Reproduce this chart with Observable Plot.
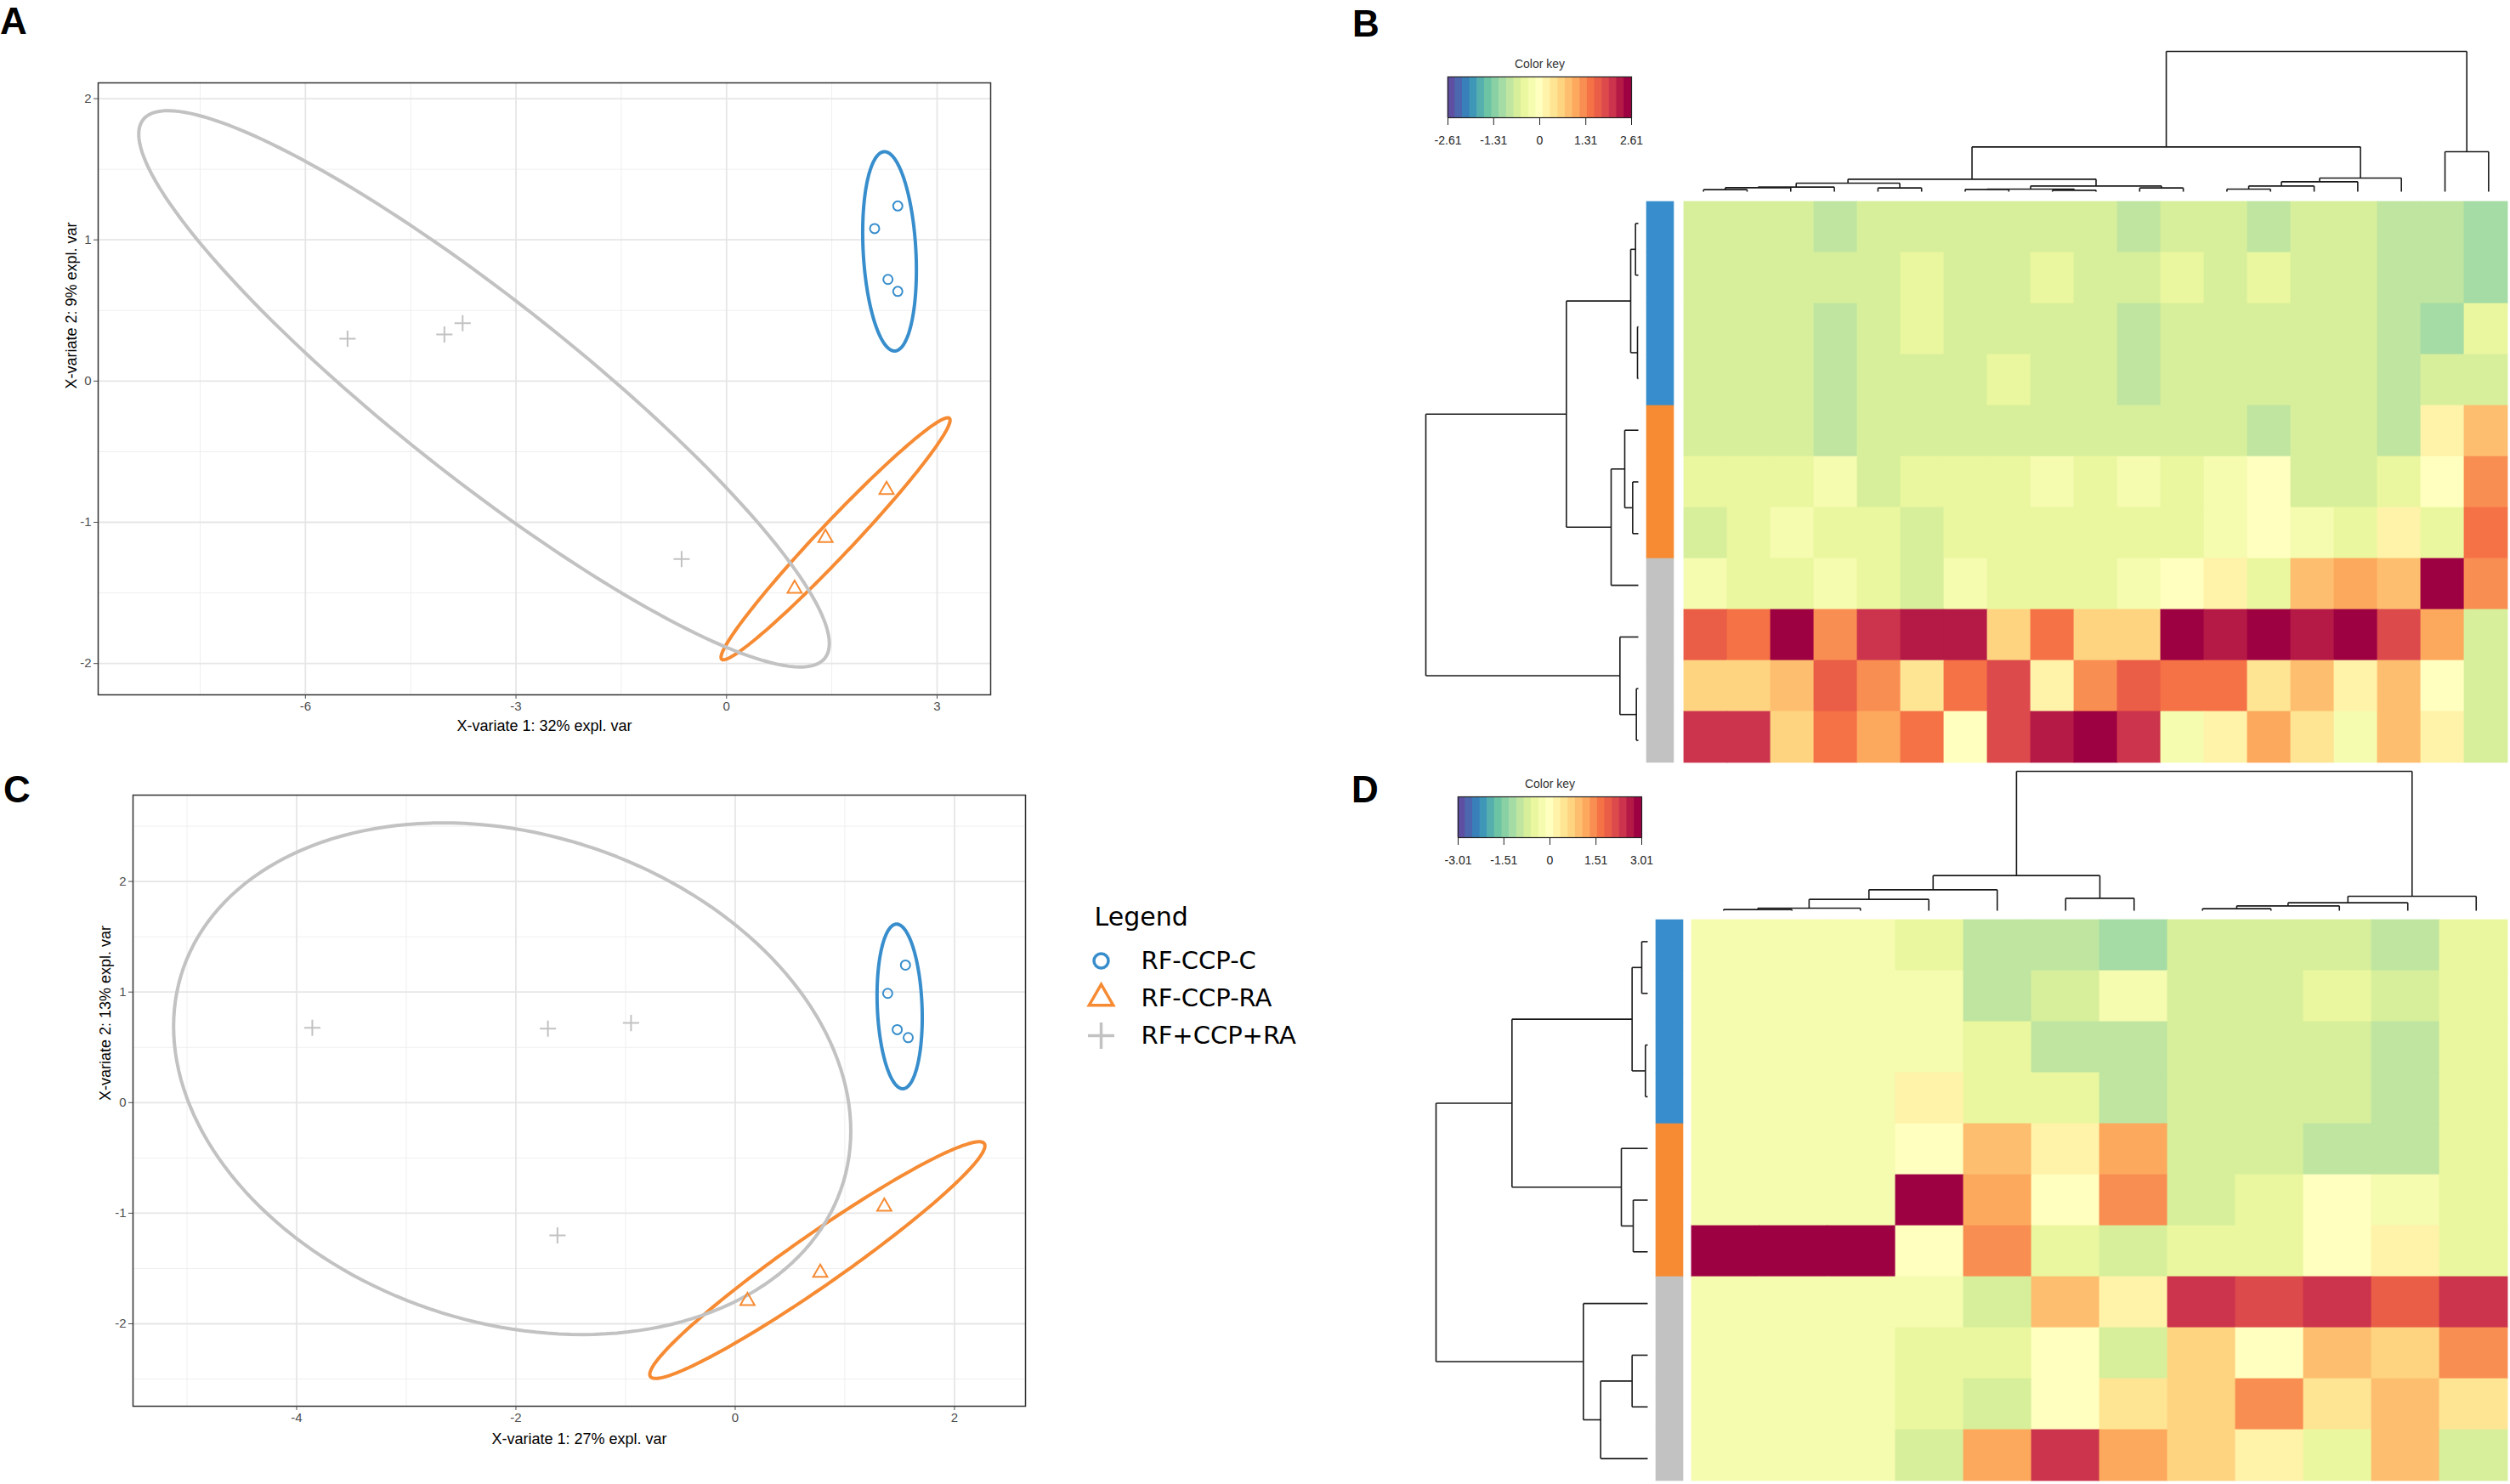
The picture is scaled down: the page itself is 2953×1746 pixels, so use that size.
<!DOCTYPE html>
<html><head><meta charset="utf-8">
<script src="https://cdn.jsdelivr.net/npm/d3@7"></script>
<script src="https://cdn.jsdelivr.net/npm/@observablehq/plot@0.6"></script>
<style>
html,body{margin:0;padding:0;background:#fff;}
#root{position:relative;width:2953px;height:1746px;overflow:hidden;background:#fff;font-family:"Liberation Sans",Arial,sans-serif;}
.plab{position:absolute;font:bold 44px "Liberation Sans",Arial,sans-serif;line-height:1;color:#000;}
</style></head><body><div id="root"></div>
<script>
// ---------------- DATA ----------------
const groups = ["RF-CCP-C", "RF-CCP-RA", "RF+CCP+RA"];
const groupColors = ["#388ECC", "#F68B33", "#C2C2C2"];
const groupSymbols = ["circle", "triangle2", "plus"];

// Panel A: sample scores (sPLS-DA, components 1-2)
const aGroup = ["RF-CCP-C","RF-CCP-C","RF-CCP-C","RF-CCP-C","RF-CCP-RA","RF-CCP-RA","RF-CCP-RA","RF+CCP+RA","RF+CCP+RA","RF+CCP+RA","RF+CCP+RA"];
const aX = [2.44, 2.11, 2.30, 2.44, 2.28, 1.41, 0.97, -5.40, -4.02, -3.76, -0.64];
const aY = [1.24, 1.08, 0.72, 0.635, -0.77, -1.11, -1.47, 0.30, 0.33, 0.41, -1.26];
const aXTicks = [-6, -3, 0, 3];
const aXMinor = [-7.5, -4.5, -1.5, 1.5];
const aYTicks = [-2, -1, 0, 1, 2];
const aYMinor = [-1.5, -0.5, 0.5, 1.5];
const aXLabel = "X-variate 1: 32% expl. var";
const aYLabel = "X-variate 2: 9% expl. var";

// Panel C
const cGroup = aGroup;
const cX = [1.553, 1.391, 1.478, 1.578, 1.360, 0.776, 0.112, -3.857, -1.708, -0.950, -1.621];
const cY = [1.244, 0.988, 0.660, 0.588, -0.941, -1.538, -1.793, 0.677, 0.669, 0.720, -1.201];
const cXTicks = [-4, -2, 0, 2];
const cXMinor = [-5, -3, -1, 1];
const cYTicks = [-2, -1, 0, 1, 2];
const cYMinor = [-2.5, -1.5, -0.5, 0.5, 1.5, 2.5];
const cXLabel = "X-variate 1: 27% expl. var";
const cYLabel = "X-variate 2: 13% expl. var";

// Heatmap B (rows in display order, 19 variables)
const bValues = [
  [-0.63,-0.62,-0.64,-0.82,-0.61,-0.63,-0.60,-0.62,-0.64,-0.63,-0.86,-0.62,-0.60,-0.80,-0.62,-0.61,-0.85,-0.83,-1.05],
  [-0.62,-0.64,-0.61,-0.66,-0.63,-0.45,-0.62,-0.60,-0.42,-0.63,-0.65,-0.44,-0.61,-0.40,-0.62,-0.64,-0.84,-0.80,-1.02],
  [-0.61,-0.63,-0.62,-0.83,-0.64,-0.46,-0.60,-0.62,-0.63,-0.61,-0.85,-0.62,-0.64,-0.60,-0.63,-0.62,-0.86,-1.08,-0.40],
  [-0.64,-0.62,-0.63,-0.84,-0.61,-0.60,-0.63,-0.43,-0.62,-0.64,-0.82,-0.61,-0.63,-0.62,-0.60,-0.64,-0.83,-0.70,-0.68],
  [-0.62,-0.61,-0.64,-0.85,-0.62,-0.63,-0.60,-0.62,-0.64,-0.61,-0.63,-0.62,-0.60,-0.84,-0.62,-0.63,-0.82,0.22,0.86],
  [-0.42,-0.44,-0.40,-0.22,-0.62,-0.41,-0.43,-0.45,-0.20,-0.42,-0.23,-0.41,-0.19,0.01,-0.60,-0.64,-0.42,0.03,1.24],
  [-0.62,-0.43,-0.21,-0.41,-0.44,-0.63,-0.42,-0.40,-0.43,-0.41,-0.44,-0.42,-0.20,0.02,-0.22,-0.41,0.20,-0.43,1.47],
  [-0.21,-0.42,-0.40,-0.19,-0.43,-0.64,-0.22,-0.41,-0.42,-0.44,-0.20,0.00,0.21,-0.42,0.85,1.05,0.83,2.61,1.27],
  [1.68,1.45,2.52,1.26,2.08,2.29,2.31,0.62,1.47,0.64,0.63,2.55,2.28,2.50,2.30,2.53,1.87,1.03,-0.63],
  [0.63,0.64,0.84,1.66,1.25,0.41,1.46,1.88,0.21,1.24,1.67,1.45,1.47,0.43,0.85,0.20,0.83,0.01,-0.62],
  [2.09,2.10,0.62,1.46,1.05,1.44,-0.02,1.89,2.31,2.54,2.08,-0.21,0.22,1.04,0.42,-0.20,0.84,0.21,-0.64]
];
const bRowGroups = ["RF-CCP-C","RF-CCP-C","RF-CCP-C","RF-CCP-C","RF-CCP-RA","RF-CCP-RA","RF-CCP-RA","RF+CCP+RA","RF+CCP+RA","RF+CCP+RA","RF+CCP+RA"];
// dendrogram merges [a, b, height]; negative = leaf (display order), positive = earlier merge
const bRowMerges = [[-1,-2,10],[-3,-4,3],[1,2,27],[-6,-7,20],[-5,4,48],[5,-8,96],[3,6,254],[-10,-11,7],[-9,8,65],[7,9,750]];
const bColMerges = [[-1,-2,7],[1,-3,14],[2,-4,16],[-5,-6,13],[3,4,30],[-7,-8,8],[-9,-10,5],[6,7,9],[-11,-12,13],[8,9,20],[5,10,44],
  [-13,-14,9],[12,-15,20],[13,-16,35],[14,-17,48],[11,15,158],[-18,-19,141],[16,17,495]];
const bKeyTicks = [-2.61, -1.31, 0, 1.31, 2.61];

// Heatmap D (12 variables)
const dValues = [
  [-0.24,-0.24,-0.24,-0.47,-0.95,-0.97,-1.20,-0.72,-0.70,-0.73,-0.96,-0.48],
  [-0.24,-0.24,-0.24,-0.22,-0.94,-0.71,-0.25,-0.73,-0.72,-0.46,-0.70,-0.49],
  [-0.24,-0.24,-0.24,-0.23,-0.47,-0.96,-0.98,-0.72,-0.71,-0.74,-0.95,-0.47],
  [-0.24,-0.24,-0.24,0.25,-0.46,-0.49,-0.97,-0.71,-0.72,-0.70,-0.96,-0.48],
  [-0.24,-0.24,-0.24,0.02,0.95,0.24,1.19,-0.72,-0.73,-0.95,-0.97,-0.47],
  [-0.24,-0.24,-0.24,2.91,1.21,0.01,1.45,-0.71,-0.47,0.03,-0.23,-0.48],
  [3.01,3.01,3.01,-0.02,1.44,-0.48,-0.72,-0.46,-0.47,0.02,0.25,-0.49],
  [-0.24,-0.24,-0.24,-0.23,-0.72,0.96,0.23,2.40,2.17,2.42,1.93,2.39],
  [-0.24,-0.24,-0.24,-0.47,-0.49,0.01,-0.72,0.73,0.02,0.97,0.71,1.45],
  [-0.24,-0.24,-0.24,-0.46,-0.73,0.00,0.49,0.72,1.44,0.47,0.95,0.48],
  [-0.24,-0.24,-0.24,-0.71,1.20,2.40,1.22,0.73,0.24,-0.47,0.96,-0.72]
];
const dRowGroups = bRowGroups;
const dRowMerges = [[-1,-2,21],[-3,-4,8],[1,2,55],[-6,-7,51],[-5,4,93],[3,5,479],[-9,-10,55],[7,-11,166],[-8,8,227],[6,9,747]];
const dColMerges = [[-1,-2,4],[1,-3,9],[2,-4,40],[3,-5,74],[-6,-7,44],[4,5,124],[-8,-9,7],[7,-10,17],[8,-11,28],[9,-12,51],[6,10,492]];
const dKeyTicks = [-3.01, -1.51, 0, 1.51, 3.01];

// colour palette (mixOmics color.spectral style)
const spectral11 = ["#5E4FA2","#3288BD","#66C2A5","#ABDDA4","#E6F598","#FFFFBF","#FEE08B","#FDAE61","#F46D43","#D53E4F","#9E0142"];
const nColors = 25;

// ---------------- HELPERS ----------------
const root = document.getElementById("root");
const FONT = '"Liberation Sans", Arial, sans-serif';
const LEGEND_FONT = '"DejaVu Sans", "Noto Sans", sans-serif';
const palette = d3.quantize(d3.piecewise(d3.interpolateRgb, spectral11), nColors);
function place(el, left, top) {
  el.style.position = "absolute"; el.style.left = left + "px"; el.style.top = top + "px";
  el.style.maxWidth = "none";
  root.appendChild(el);
}
function label(txt, left, top) {
  const d = document.createElement("div"); d.className = "plab"; d.textContent = txt;
  d.style.left = left + "px"; d.style.top = top + "px"; root.appendChild(d);
}
const baseStyle = {background: "transparent", fontFamily: FONT, fontSize: "15px", color: "#000", overflow: "visible"};

function ellipses(xs, ys, gs, level = 0.95, n = 180) {
  const t = Math.sqrt(-2 * Math.log(1 - level)); // sqrt(qchisq(level, 2))
  const out = [];
  for (const g of groups) {
    const idx = gs.map((d, i) => d === g ? i : -1).filter(i => i >= 0);
    const px = idx.map(i => xs[i]), py = idx.map(i => ys[i]);
    const mx = d3.mean(px), my = d3.mean(py);
    const sxx = d3.variance(px), syy = d3.variance(py);
    const sxy = d3.sum(idx, i => (xs[i] - mx) * (ys[i] - my)) / (idx.length - 1);
    const l11 = Math.sqrt(sxx), l21 = sxy / l11, l22 = Math.sqrt(Math.max(syy - l21 * l21, 0));
    for (let k = 0; k < n; k++) {
      const a = 2 * Math.PI * k / n, u = Math.cos(a), v = Math.sin(a);
      out.push({g, x: mx + t * l11 * u, y: my + t * (l21 * u + l22 * v)});
    }
  }
  return out;
}
function expand(ext) { const r = ext[1] - ext[0]; return [ext[0] - 0.05 * r, ext[1] + 0.05 * r]; }

function scatterPanel(o) {
  const pts = o.xs.map((x, i) => ({x, y: o.ys[i], g: o.gs[i]}));
  const ell = ellipses(o.xs, o.ys, o.gs);
  const all = pts.concat(ell);
  const xd = expand(d3.extent(all, d => d.x)), yd = expand(d3.extent(all, d => d.y));
  const sizes = [5.5, 8, 6.2];
  return Plot.plot({
    width: o.width, height: o.height,
    marginTop: o.mt, marginRight: o.mr, marginBottom: o.mb, marginLeft: o.ml,
    style: baseStyle,
    x: {domain: xd}, y: {domain: yd},
    color: {domain: groups, range: groupColors},
    symbol: {domain: groups, range: groupSymbols},
    marks: [
      Plot.ruleX(o.xMinor, {stroke: "#EFEFEF", strokeWidth: 1}),
      Plot.ruleY(o.yMinor, {stroke: "#EFEFEF", strokeWidth: 1}),
      Plot.ruleX(o.xTicks, {stroke: "#E6E6E6", strokeWidth: 1.8}),
      Plot.ruleY(o.yTicks, {stroke: "#E6E6E6", strokeWidth: 1.8}),
      Plot.line(ell, {x: "x", y: "y", z: "g", stroke: "g", strokeWidth: 4, curve: "linear-closed"}),
      ...groups.map((g, k) => Plot.dot(pts, {filter: d => d.g === g, x: "x", y: "y", symbol: "g", stroke: "g", r: sizes[k], strokeWidth: 2})),
      Plot.frame({stroke: "#333", strokeWidth: 1.5}),
      Plot.axisX(o.xTicks, {tickSize: 5, tickPadding: 3, fontSize: 15, color: "#4D4D4D", label: null, tickFormat: d => String(d)}),
      Plot.axisY(o.yTicks, {tickSize: 5, tickPadding: 3, fontSize: 15, color: "#4D4D4D", label: null, tickFormat: d => String(d)}),
      Plot.text([o.xLabel], {text: d => d, frameAnchor: "bottom", dy: o.xDy, lineAnchor: "middle", fontSize: 18, fill: "#000"}),
      Plot.text([o.yLabel], {text: d => d, frameAnchor: "left", dx: o.yDx, rotate: -90, lineAnchor: "middle", fontSize: 18, fill: "#000"})
    ]
  });
}

function dendroSegments(merges) {
  const pos = [], ht = [], segs = [];
  const get = k => k < 0 ? {p: -k, h: 0} : {p: pos[k - 1], h: ht[k - 1]};
  for (const [a, b, h] of merges) {
    const A = get(a), B = get(b);
    segs.push({p1: A.p, h1: A.h, p2: A.p, h2: h});
    segs.push({p1: B.p, h1: B.h, p2: B.p, h2: h});
    segs.push({p1: A.p, h1: h, p2: B.p, h2: h});
    pos.push((A.p + B.p) / 2); ht.push(h);
  }
  return {segs, maxH: d3.max(ht)};
}

function colorKey(M, ticks) {
  const n = palette.length;
  const bins = palette.map((c, k) => ({x1: -M + 2 * M * k / n, x2: -M + 2 * M * (k + 1) / n, c}));
  return Plot.plot({
    width: 260, height: 130, marginLeft: 23, marginRight: 21, marginTop: 35, marginBottom: 47,
    style: baseStyle,
    x: {domain: [-M, M]}, y: {domain: [0, 1], axis: null},
    color: {type: "identity"},
    marks: [
      Plot.rect(bins, {x1: "x1", x2: "x2", y1: 0, y2: 1, fill: "c", insetLeft: -0.3, insetRight: -0.3}),
      Plot.frame({stroke: "#222", strokeWidth: 1.2}),
      Plot.axisX(ticks, {tickSize: 9, tickPadding: 13, fontSize: 14, color: "#222", label: null, tickFormat: d => String(d)}),
      Plot.text(["Color key"], {text: d => d, frameAnchor: "top", dy: -11, lineAnchor: "bottom", fontSize: 14, fill: "#333"})
    ]
  });
}

function heatmap(cfg) {
  const {values, rowGroups, rowMerges, colMerges, ticks, C, S, RD, CD, K} = cfg;
  const nr = values.length, nc = values[0].length;
  const M = d3.max(values.flat(), Math.abs);
  const thresholds = d3.range(1, nColors).map(k => -M + 2 * M * k / nColors);
  const data = values.flatMap((row, i) => row.map((v, j) => ({r: i + 1, c: j + 1, v})));
  place(Plot.plot({
    width: C.w, height: C.h, margin: 0, style: baseStyle,
    x: {domain: d3.range(1, nc + 1), axis: null, padding: 0},
    y: {domain: d3.range(1, nr + 1), axis: null, padding: 0},
    color: {type: "threshold", domain: thresholds, range: palette},
    marks: [Plot.cell(data, {x: "c", y: "r", fill: "v", inset: -0.4})]
  }), C.left, C.top);
  // side colour bar
  place(Plot.plot({
    width: S.w, height: C.h, margin: 0, style: baseStyle,
    y: {domain: d3.range(1, nr + 1), axis: null, padding: 0},
    color: {domain: groups, range: groupColors},
    marks: [Plot.cell(rowGroups.map((g, i) => ({r: i + 1, g})), {y: "r", fill: "g", inset: -0.3})]
  }), S.left, C.top);
  // row dendrogram
  const rd = dendroSegments(rowMerges);
  place(Plot.plot({
    width: RD.w, height: C.h, margin: 0, style: baseStyle,
    x: {domain: [0, rd.maxH], range: [RD.leafX, RD.rootX], axis: null},
    y: {domain: [0.5, nr + 0.5], range: [0, C.h], axis: null},
    marks: [Plot.link(rd.segs, {x1: "h1", y1: "p1", x2: "h2", y2: "p2", stroke: "#1a1a1a", strokeWidth: 1.6})]
  }), RD.left, C.top);
  // column dendrogram
  const cd = dendroSegments(colMerges);
  place(Plot.plot({
    width: C.w, height: CD.h, margin: 0, style: baseStyle,
    x: {domain: [0.5, nc + 0.5], range: [0, C.w], axis: null},
    y: {domain: [0, cd.maxH], range: [CD.leafY, CD.rootY], axis: null},
    marks: [Plot.link(cd.segs, {x1: "p1", y1: "h1", x2: "p2", y2: "h2", stroke: "#1a1a1a", strokeWidth: 1.6})]
  }), C.left, CD.top);
  place(colorKey(M, ticks), K.left, K.top);
}

// ---------------- BUILD ----------------
label("A", 0, 3);
label("B", 1591, 6);
label("C", 4, 907);
label("D", 1590, 907);

place(scatterPanel({xs: aX, ys: aY, gs: aGroup, xTicks: aXTicks, yTicks: aYTicks, xMinor: aXMinor, yMinor: aYMinor,
  xLabel: aXLabel, yLabel: aYLabel, width: 1200, height: 820, mt: 37, mr: 35, mb: 63, ml: 115, xDy: 37, yDx: -31}), 0, 60);
place(scatterPanel({xs: cX, ys: cY, gs: cGroup, xTicks: cXTicks, yTicks: cYTicks, xMinor: cXMinor, yMinor: cYMinor,
  xLabel: cXLabel, yLabel: cYLabel, width: 1240, height: 846, mt: 35, mr: 34, mb: 92, ml: 156, xDy: 39, yDx: -32}), 0, 900);

// legend
const legendSizes = [8.5, 13.5, 10];
place(Plot.plot({
  width: 360, height: 200, margin: 0, style: baseStyle,
  y: {type: "point", domain: groups, range: [80, 168], padding: 0, axis: null},
  color: {domain: groups, range: groupColors},
  symbol: {domain: groups, range: groupSymbols},
  marks: [
    Plot.text(["Legend"], {text: d => d, frameAnchor: "top-left", dx: 17, dy: 38, lineAnchor: "bottom", textAnchor: "start", fontSize: 30, fill: "#000", fontFamily: LEGEND_FONT}),
    ...groups.map((g, k) => Plot.dot(groups, {filter: d => d === g, y: d => d, frameAnchor: "left", dx: 25, symbol: d => d, stroke: d => d, r: legendSizes[k], strokeWidth: 3.5})),
    Plot.text(groups, {y: d => d, text: d => d, frameAnchor: "left", dx: 72, textAnchor: "start", lineAnchor: "middle", fontSize: 29, fill: "#000", fontFamily: LEGEND_FONT})
  ]
}), 1270, 1050);

heatmap({values: bValues, rowGroups: bRowGroups, rowMerges: bRowMerges, colMerges: bColMerges, ticks: bKeyTicks,
  C: {left: 1978, top: 232, w: 975, h: 669}, S: {left: 1937, w: 32},
  RD: {left: 1670, w: 262, leafX: 257, rootX: 7}, CD: {top: 50, h: 182, leafY: 175, rootY: 10},
  K: {left: 1680, top: 55}});
heatmap({values: dValues, rowGroups: dRowGroups, rowMerges: dRowMerges, colMerges: dColMerges, ticks: dKeyTicks,
  C: {left: 1987, top: 1077, w: 966, h: 669}, S: {left: 1948, w: 32},
  RD: {left: 1680, w: 262, leafX: 258, rootX: 9}, CD: {top: 895, h: 182, leafY: 176, rootY: 12},
  K: {left: 1692, top: 902}});
</script></body></html>
